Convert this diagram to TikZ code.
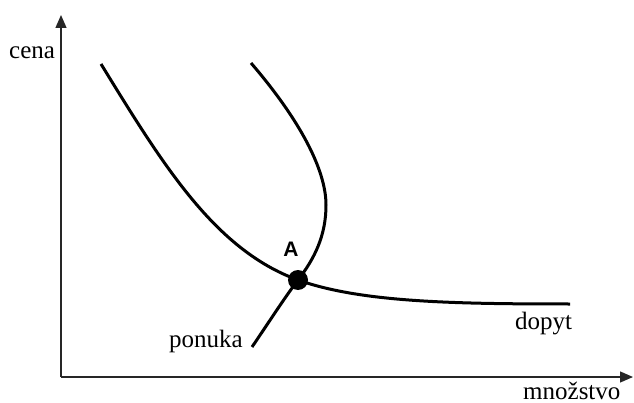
\documentclass[tikz,border=0pt]{standalone}
\usepackage{fontspec}
\setmainfont{Liberation Serif}
\newfontfamily\labelsans{Liberation Sans}
\usetikzlibrary{arrows.meta}
\begin{document}
\begin{tikzpicture}[x=1pt,y=-1pt,
  axisline/.style={line width=1.3pt,draw=black!85,-{Triangle[length=13pt,width=11pt]}},
  curveline/.style={line width=3pt,black},
  lbl/.style={inner sep=0pt,anchor=base west,font=\fontsize{25}{29}\selectfont}]
\useasboundingbox (0,0) rectangle (634,403);
\coordinate (O) at (61,377);
\coordinate (Ytop) at (61,15);
\coordinate (Xend) at (633,377);
\draw[axisline] (O) -- (Ytop);
\draw[axisline] (O) -- (Xend);
\coordinate (A) at (298,280);
% demand
\draw[curveline] (101,64) .. controls (163,165) and (215,250) .. (A)
  .. controls (360,302) and (450,304) .. (570,304);
% supply
\draw[curveline] (251,63) .. controls (300,120) and (326,170) .. (326,205)
  .. controls (326,235) and (315,258) .. (A)
  .. controls (285,297) and (265,328) .. (252,347);
\fill[black] (A) circle (10);
\node[inner sep=0pt,font=\labelsans\bfseries\fontsize{21}{24}\selectfont] (lA) at (291,249) {A};
\node[lbl] (cena) at (9,59) {cena};
\node[lbl] (ponuka) at (169,347) {ponuka};
\node[lbl] (dopyt) at (515,329) {dopyt};
\node[lbl] (mnozstvo) at (523,399) {množstvo};
\end{tikzpicture}
\end{document}
